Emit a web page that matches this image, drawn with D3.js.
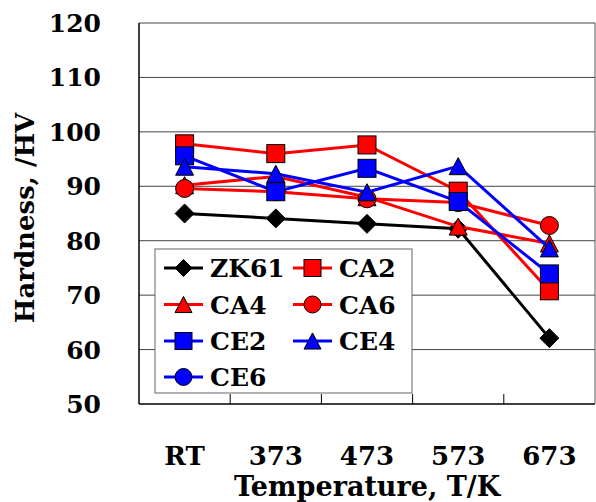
<!DOCTYPE html>
<html>
<head>
<meta charset="utf-8">
<script src="https://cdn.jsdelivr.net/npm/d3@7"></script>
<style>
  html, body { margin: 0; padding: 0; background: #fff; }
  svg { display: block; }
  text { font-family: "DejaVu Serif", "Liberation Serif", serif; font-weight: bold; fill: #000; }
</style>
</head>
<body>
<svg id="chart" width="596" height="502"></svg>
<script>
// ---- data ----
const categories = ["RT", "373", "473", "573", "673"];
const yTicks = [50, 60, 70, 80, 90, 100, 110, 120];
const seriesNames = ["ZK61", "CA2", "CA4", "CA6", "CE2", "CE4", "CE6"];
const ZK61 = [85.0, 84.1, 83.1, 82.2, 62.1];
const CA2  = [97.8, 96.0, 97.6, 89.1, 70.8];
const CA4  = [90.2, 91.8, 88.0, 82.6, 79.5];
const CA6  = [89.6, 89.0, 87.7, 87.0, 82.8];
const CE2  = [95.6, 89.0, 93.3, 87.2, 73.9];
const CE4  = [93.6, 92.3, 88.9, 93.7, 78.6];
const CE6  = [null, null, null, null, null];

const series = [
  { name: "ZK61", values: ZK61, color: "#000000", shape: "diamond" },
  { name: "CA2",  values: CA2,  color: "#ff0000", shape: "square" },
  { name: "CA4",  values: CA4,  color: "#ff0000", shape: "triangle" },
  { name: "CA6",  values: CA6,  color: "#ff0000", shape: "circle" },
  { name: "CE2",  values: CE2,  color: "#0000ff", shape: "square" },
  { name: "CE4",  values: CE4,  color: "#0000ff", shape: "triangle" },
  { name: "CE6",  values: CE6,  color: "#0000ff", shape: "circle" }
];

// ---- layout ----
const svg = d3.select("#chart");
const plot = { left: 139, right: 595, top: 23, bottom: 404 };

const x = d3.scaleBand().domain(categories).range([plot.left, plot.right]);
const y = d3.scaleLinear().domain([50, 120]).range([plot.bottom, plot.top]);

// gridlines
svg.append("g").selectAll("line").data(yTicks).join("line")
  .attr("x1", plot.left).attr("x2", plot.right)
  .attr("y1", d => y(d)).attr("y2", d => y(d))
  .attr("stroke", d => (d === 50 ? "#000" : "#444"))
  .attr("stroke-width", d => (d === 50 ? 1.5 : 1));

// right border
svg.append("line").attr("x1", plot.right).attr("x2", plot.right)
  .attr("y1", plot.top).attr("y2", plot.bottom).attr("stroke", "#555").attr("stroke-width", 1);
// left axis line
svg.append("line").attr("x1", plot.left).attr("x2", plot.left)
  .attr("y1", plot.top).attr("y2", plot.bottom).attr("stroke", "#000").attr("stroke-width", 1.5);

// x ticks (inward, at band boundaries)
const bounds = categories.slice(1).map(c => x(c));
svg.append("g").selectAll("line").data(bounds).join("line")
  .attr("x1", d => d).attr("x2", d => d)
  .attr("y1", plot.bottom).attr("y2", plot.bottom - 10)
  .attr("stroke", "#000").attr("stroke-width", 1);

// y tick labels
svg.append("g").selectAll("text").data(yTicks).join("text")
  .attr("x", 101).attr("y", d => y(d) + 9)
  .attr("text-anchor", "end")
  .style("font-size", "25px")
  .text(d => d);

// x tick labels
svg.append("g").selectAll("text").data(categories).join("text")
  .attr("x", d => x(d) + x.bandwidth() / 2).attr("y", 465)
  .attr("text-anchor", "middle")
  .style("font-size", "26px")
  .text(d => d);

// axis titles
svg.append("text").attr("x", (plot.left + plot.right) / 2).attr("y", 496)
  .attr("text-anchor", "middle").style("font-size", "27px").text("Temperature, T/K");
svg.append("text").attr("transform", "translate(34,218) rotate(-90)")
  .attr("text-anchor", "middle").style("font-size", "26px").text("Hardness, /HV");

// marker helper
function marker(g, shape, color, cx, cy, s) {
  let el;
  if (shape === "square") {
    el = g.append("rect").attr("x", cx - s / 2).attr("y", cy - s / 2).attr("width", s).attr("height", s);
  } else if (shape === "circle") {
    el = g.append("circle").attr("cx", cx).attr("cy", cy).attr("r", s / 2);
  } else if (shape === "triangle") {
    const h = s * 0.95;
    el = g.append("path").attr("d",
      `M${cx},${cy - h / 2}L${cx + s / 2},${cy + h / 2}L${cx - s / 2},${cy + h / 2}Z`);
  } else {
    const r = s / 2;
    el = g.append("path").attr("d",
      `M${cx},${cy - r}L${cx + r},${cy}L${cx},${cy + r}L${cx - r},${cy}Z`);
  }
  el.attr("fill", color).attr("stroke", "#000").attr("stroke-width", 1);
  return el;
}

const cxOf = c => x(c) + x.bandwidth() / 2;
const line = d3.line().defined(d => d.v != null).x(d => cxOf(d.c)).y(d => y(d.v));

series.forEach(s => {
  const pts = categories.map((c, i) => ({ c, v: s.values[i] }));
  const g = svg.append("g");
  g.append("path").attr("d", line(pts)).attr("fill", "none")
    .attr("stroke", s.color).attr("stroke-width", 3);
  pts.filter(p => p.v != null).forEach(p => {
    const size = s.shape === "diamond" ? 19 : 18;
    marker(g, s.shape, s.color, cxOf(p.c), y(p.v), size);
  });
});

// legend
const lg = svg.append("g");
lg.append("rect").attr("x", 155).attr("y", 249).attr("width", 257).attr("height", 144)
  .attr("fill", "#fff").attr("stroke", "#666").attr("stroke-width", 1);
const rowY = [268, 304.5, 341, 377];
const colX = [164, 293];
series.forEach((s, i) => {
  const col = i % 2, row = Math.floor(i / 2);
  const x0 = colX[col], yy = rowY[row];
  lg.append("line").attr("x1", x0).attr("x2", x0 + 39).attr("y1", yy).attr("y2", yy)
    .attr("stroke", s.color).attr("stroke-width", 3);
  marker(lg, s.shape, s.color, x0 + 19.5, yy, 17);
  lg.append("text").attr("x", x0 + 46).attr("y", yy + 9).style("font-size", "25px").text(s.name);
});
</script>
</body>
</html>
